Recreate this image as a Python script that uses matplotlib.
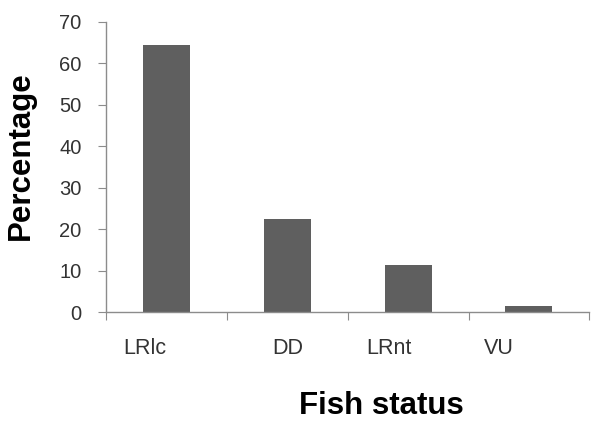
import numpy as np
import matplotlib.pyplot as plt

# Data
status = ['LRlc', 'DD', 'LRnt', 'VU']
percent = [64.4, 22.4, 11.3, 1.4]

# label offsets (the original text boxes are not centred on bars)
label_shift = [-0.18, 0.0, -0.16, -0.25]

plt.rcParams['font.family'] = ['Liberation Sans', 'DejaVu Sans']

fig = plt.figure(figsize=(5.91, 4.23), dpi=100)
ax = fig.add_axes([0.18, 0.262, 0.817, 0.686])

x = np.arange(len(status))
ax.bar(x, percent, width=0.39, color='#5f5f5f', zorder=2)

ax.set_xlim(-0.5, len(status) - 0.5)
ax.set_ylim(0, 70)
ax.set_yticks(np.arange(0, 71, 10))
ax.set_xticks(np.arange(-0.5, len(status), 1.0))
ax.set_xticklabels([])

for s in ['top', 'right']:
    ax.spines[s].set_visible(False)
for s in ['left', 'bottom']:
    ax.spines[s].set_color('#8c8c8c')
    ax.spines[s].set_linewidth(1.0)

ax.tick_params(axis='y', direction='out', length=6, color='#8c8c8c',
               labelsize=14.5, labelcolor='#333333', pad=12)
ax.tick_params(axis='x', direction='out', length=6, color='#8c8c8c')

trans = ax.get_xaxis_transform()
for i, name in enumerate(status):
    ax.text(x[i] + label_shift[i], -0.125, name, transform=trans,
            ha='center', va='center', fontsize=15.5, color='#333333')

ax.set_ylabel('Percentage', fontsize=22.5, fontweight='bold')
ax.yaxis.set_label_coords(-0.145, 0.54)
ax.text(0.57, -0.35, 'Fish status', transform=ax.transAxes, ha='center',
        va='baseline', fontsize=22.5, fontweight='bold', color='black')

plt.savefig('out.png', dpi=100)
